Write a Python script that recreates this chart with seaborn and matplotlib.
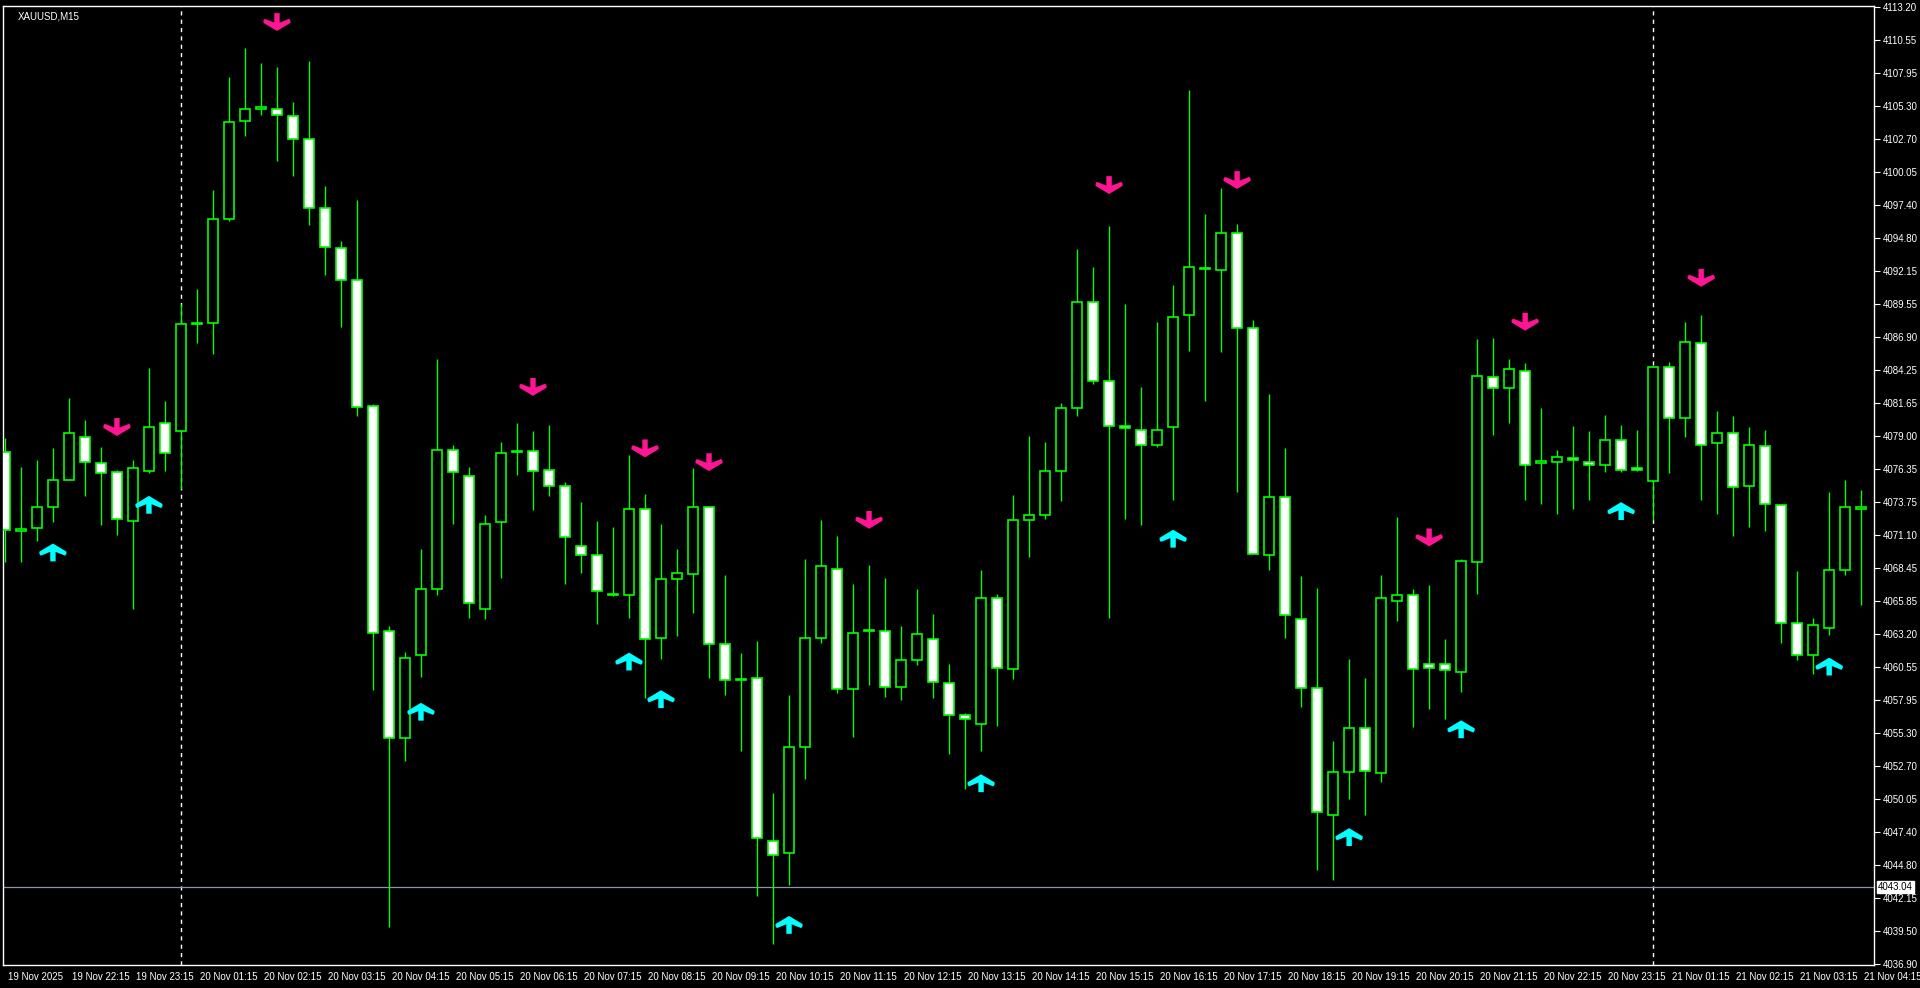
import matplotlib
matplotlib.use("Agg")
import matplotlib.pyplot as plt
from matplotlib.path import Path
import matplotlib.transforms as mtrans
import numpy as np
import pandas as pd
import seaborn as sns

opens = [4077.7,4071.4,4071.65,4073.3,4075.5,4078.9,4076.8,4076.1,4072.2,4076.2,4080.0,4079.4,4087.9,4088.0,4096.3,4104.1,4105.1,4105.1,4104.5,4102.7,
         4097.2,4094.0,4091.4,4081.4,4063.4,4054.9,4061.5,4066.8,4077.9,4075.8,4065.2,4072.1,4077.7,4077.8,4076.3,4075.0,4070.2,4069.5,4066.4,4066.3,
         4073.2,4062.9,4067.6,4068.0,4073.3,4062.4,4059.5,4059.7,4046.7,4045.7,4054.2,4062.9,4068.4,4058.8,4063.4,4063.4,4059.0,4061.1,4062.8,4059.3,
         4056.7,4056.0,4066.1,4060.4,4072.3,4072.7,4076.2,4081.2,4089.7,4083.4,4079.8,4079.5,4078.3,4079.7,4088.6,4092.3,4092.2,4095.2,4087.6,4069.5,
         4074.1,4064.4,4058.9,4048.8,4052.2,4055.7,4052.1,4065.8,4066.3,4060.8,4060.8,4060.2,4068.9,4083.7,4082.8,4084.2,4076.8,4076.9,4077.2,4076.9,
         4076.7,4078.7,4076.4,4075.4,4084.5,4080.4,4086.4,4078.4,4079.2,4075.0,4078.2,4073.5,4064.1,4061.5,4063.7,4068.3,4073.2]
highs = [4078.8,4076.5,4077.1,4078.0,4082.0,4080.3,4078.1,4076.3,4077.1,4084.4,4081.8,4089.5,4090.7,4098.6,4107.6,4109.9,4108.7,4108.4,4105.6,4108.9,
         4098.9,4094.5,4097.8,4081.5,4063.8,4061.8,4070.0,4085.1,4078.3,4076.5,4072.7,4078.5,4080.0,4079.4,4079.9,4075.3,4073.7,4072.2,4071.7,4077.5,
         4074.4,4072.0,4070.0,4076.4,4073.3,4067.9,4061.7,4062.6,4050.5,4058.3,4069.2,4072.3,4071.0,4067.2,4068.7,4067.7,4063.8,4066.8,4064.8,4060.8,
         4056.9,4068.3,4066.4,4074.3,4079.0,4078.5,4081.6,4093.9,4092.5,4095.7,4089.5,4082.9,4088.1,4091.0,4106.6,4096.7,4098.8,4095.9,4088.2,4082.3,
         4078.0,4067.8,4066.9,4054.7,4061.2,4059.7,4067.9,4072.5,4066.8,4067.1,4062.8,4069.2,4086.7,4086.8,4085.1,4084.8,4081.2,4077.9,4079.8,4079.4,
         4080.7,4079.9,4079.5,4084.6,4084.9,4088.1,4088.6,4081.0,4080.6,4079.7,4079.5,4073.5,4068.2,4064.5,4074.5,4075.5,4074.7]
lows = [4068.9,4068.9,4070.6,4072.1,4075.5,4074.2,4071.9,4071.1,4065.2,4076.0,4076.2,4074.8,4086.4,4085.5,4096.1,4102.9,4104.6,4100.9,4099.7,4095.8,
        4091.8,4087.7,4080.6,4058.7,4039.8,4053.1,4059.8,4066.3,4072.0,4064.5,4064.4,4067.7,4075.9,4073.1,4074.2,4067.2,4068.1,4064.0,4066.2,4064.5,
        4058.1,4061.2,4063.0,4064.9,4059.7,4058.3,4053.9,4042.3,4038.5,4043.2,4051.6,4062.5,4058.5,4055.0,4059.1,4058.2,4057.9,4060.7,4058.1,4053.6,
        4050.8,4053.9,4055.9,4059.6,4069.3,4072.4,4073.8,4080.6,4083.1,4064.5,4072.4,4071.9,4078.1,4073.9,4085.8,4081.8,4085.7,4074.5,4069.6,4068.3,
        4062.9,4057.4,4044.4,4043.6,4050.0,4048.8,4051.4,4064.2,4055.8,4057.2,4056.4,4058.6,4066.4,4079.1,4080.0,4073.9,4073.6,4072.8,4073.2,4073.9,
        4076.1,4076.1,4076.2,4072.3,4076.0,4078.9,4073.9,4072.8,4071.0,4071.7,4071.4,4062.5,4061.1,4060.0,4063.1,4067.9,4065.5]
closes = [4071.5,4071.6,4073.3,4075.5,4079.2,4076.9,4076.0,4072.4,4076.4,4079.7,4077.6,4087.9,4088.0,4096.3,4104.0,4105.1,4105.2,4104.6,4102.7,4097.2,
          4094.1,4091.4,4081.3,4063.3,4054.9,4061.3,4066.8,4077.9,4076.1,4065.7,4072.0,4077.6,4077.8,4076.2,4075.0,4070.9,4069.5,4066.6,4066.3,4073.2,
          4062.8,4067.6,4068.1,4073.3,4062.4,4059.5,4059.6,4046.9,4045.6,4054.2,4062.9,4068.6,4058.8,4063.3,4063.5,4059.0,4061.1,4063.2,4059.4,4056.7,
          4056.4,4066.1,4060.5,4072.3,4072.7,4076.2,4081.2,4089.7,4083.4,4079.8,4079.6,4078.3,4079.5,4088.5,4092.5,4092.4,4095.2,4087.6,4069.6,4074.1,
          4064.7,4058.9,4049.0,4052.2,4055.7,4052.3,4066.1,4066.3,4060.4,4060.5,4060.3,4069.0,4083.8,4082.8,4084.3,4076.7,4077.0,4077.3,4077.1,4076.7,
          4078.7,4076.3,4076.3,4084.5,4080.4,4086.5,4078.3,4079.2,4074.9,4078.3,4073.6,4064.1,4061.5,4063.9,4068.3,4073.3,4073.3]

down_bars = [7, 17, 33, 40, 44, 54, 69, 77, 89, 95, 106]
down_prices = [4079.7, 4112.0, 4082.9, 4078.0, 4076.9, 4072.3, 4099.0, 4099.4, 4070.9, 4088.1, 4091.6]
up_bars = [3, 9, 26, 39, 41, 49, 61, 73, 84, 91, 101, 114]
up_prices = [4069.7, 4073.5, 4057.0, 4061.0, 4058.0, 4040.0, 4051.3, 4070.8, 4047.0, 4055.6, 4073.0, 4060.6]

ytick_labels = ["4113.20","4110.55","4107.95","4105.30","4102.70","4100.05","4097.40","4094.80","4092.15","4089.55",
                "4086.90","4084.25","4081.65","4079.00","4076.35","4073.75","4071.10","4068.45","4065.85","4063.20",
                "4060.55","4057.95","4055.30","4052.70","4050.05","4047.40","4044.80","4042.15","4039.50","4036.90"]
xtick_labels = ["19 Nov 2025","19 Nov 22:15","19 Nov 23:15","20 Nov 01:15","20 Nov 02:15","20 Nov 03:15","20 Nov 04:15",
                "20 Nov 05:15","20 Nov 06:15","20 Nov 07:15","20 Nov 08:15","20 Nov 09:15","20 Nov 10:15","20 Nov 11:15",
                "20 Nov 12:15","20 Nov 13:15","20 Nov 14:15","20 Nov 15:15","20 Nov 16:15","20 Nov 17:15","20 Nov 18:15",
                "20 Nov 19:15","20 Nov 20:15","20 Nov 21:15","20 Nov 22:15","20 Nov 23:15","21 Nov 01:15","21 Nov 02:15",
                "21 Nov 03:15","21 Nov 04:15"]
separator_bars = [11, 103]
current_price = 4043.04
symbol = "XAUUSD,M15"

sns.set_style("dark", {"axes.facecolor": "black", "figure.facecolor": "black"})
plt.rcParams['font.family'] = ['Liberation Sans', 'DejaVu Sans']

df = pd.DataFrame({"o": opens, "h": highs, "l": lows, "c": closes})
df["x"] = np.arange(len(df))

fig = plt.figure(figsize=(19.2, 9.88), dpi=100, facecolor="black")
ax = fig.add_axes([3/1920, 1-965/988, 1871/1920, 959/988])
ax.set_facecolor("black")
green = "#00FF00"

ax.vlines(df["x"], df["l"], df["h"], color=green, lw=1, zorder=2)
bull = df["c"] >= df["o"]
bottoms = np.minimum(df["o"], df["c"])
heights = np.abs(df["c"] - df["o"])
ax.bar(df["x"], heights, bottom=bottoms, width=0.62,
       color=np.where(bull, "black", "white"), edgecolor=green, linewidth=1.2, zorder=3)

dv = [(-0.1,0.33),(0.1,0.33),(0.1,-0.02),(0.45,0.12),(0.5,0.05),(0.5,-0.03),(0,-0.33),
      (-0.5,-0.03),(-0.5,0.05),(-0.45,0.12),(-0.1,-0.02),(-0.1,0.33)]
down_marker = Path(dv + [dv[0]], closed=True)
up_marker = Path([(x, -y) for x, y in dv] + [(dv[0][0], -dv[0][1])], closed=True)
sns.scatterplot(x=down_bars, y=down_prices, marker=down_marker, s=380, color="#FF1493",
                edgecolor="none", ax=ax, zorder=5, clip_on=False)
sns.scatterplot(x=up_bars, y=up_prices, marker=up_marker, s=380, color="#00FFFF",
                edgecolor="none", ax=ax, zorder=5)

for b in separator_bars:
    ax.axvline(b, color="white", lw=1, ls=(0, (3, 3)), zorder=1)
ax.axhline(current_price, color="#8a95a5", lw=0.9, zorder=1)

ax.set_xlim(-0.12, 116.8)
ax.set_ylim(4036.8, 4113.28)

ax.yaxis.tick_right()
ax.set_yticks([float(t) for t in ytick_labels])
ax.set_yticklabels(ytick_labels, color="white", fontsize=7)
ax.tick_params(axis="y", direction="out", length=4, color="white", pad=2)
ax.set_xticks(np.arange(0, 4*len(xtick_labels), 4))
ax.set_xticklabels(xtick_labels, color="white", fontsize=7, ha="left")
ax.tick_params(axis="x", direction="out", length=4, color="white", pad=1)
off = mtrans.ScaledTranslation(2/72, 0, fig.dpi_scale_trans)
for lab in ax.get_xticklabels():
    lab.set_transform(lab.get_transform() + off)

for s in ax.spines.values():
    s.set_color("white"); s.set_linewidth(1)
ax.grid(False)

ax.text(1.002, current_price, f"{current_price:.2f}", transform=ax.get_yaxis_transform(),
        ha="left", va="center", fontsize=7, color="black",
        bbox=dict(boxstyle="square,pad=0.12", fc="white", ec="white"), zorder=10, clip_on=False)
ax.text(0.008, 0.994, symbol, transform=ax.transAxes, ha="left", va="top", fontsize=7, color="white")

fig.savefig("out.png", dpi=100, facecolor="black")
